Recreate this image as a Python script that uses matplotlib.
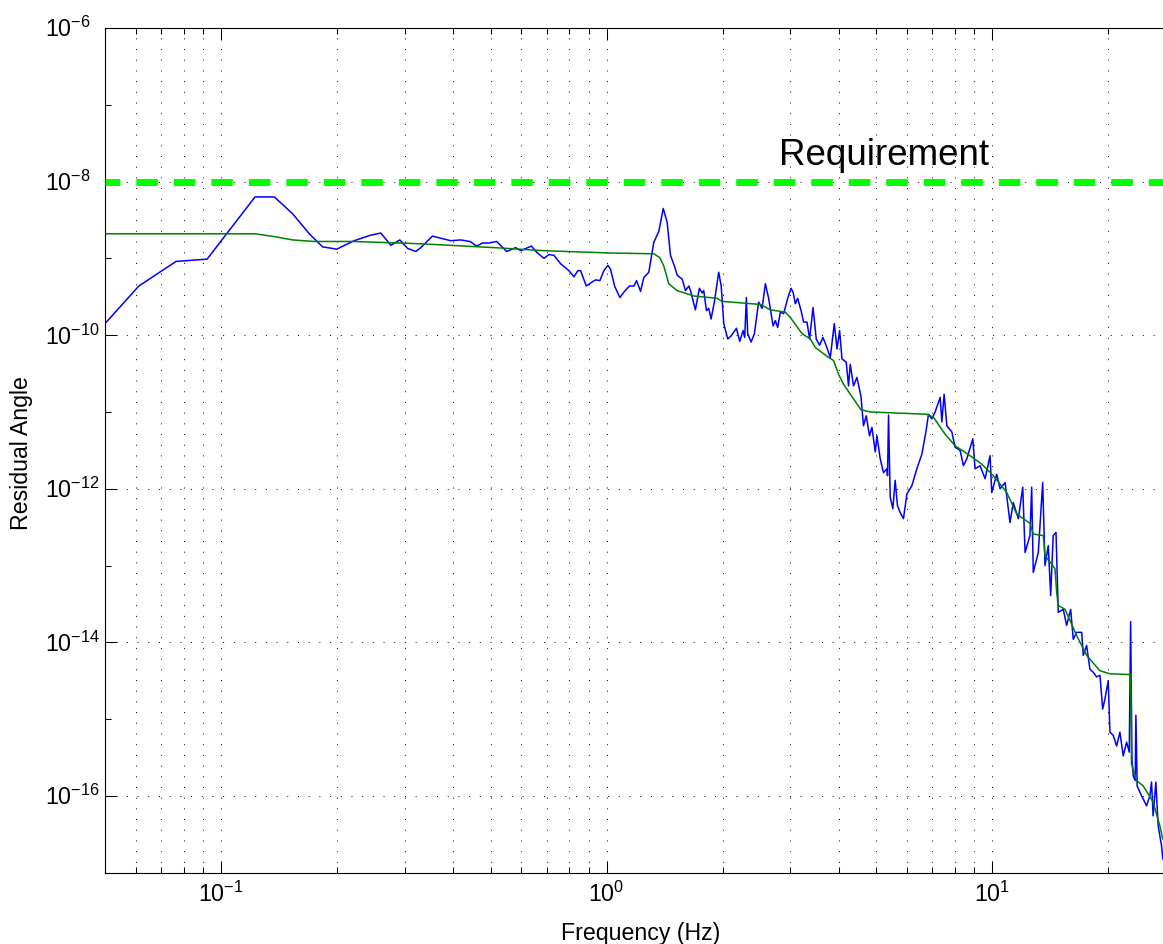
import numpy as np
import matplotlib
matplotlib.use("Agg")
import matplotlib.pyplot as plt
from matplotlib.ticker import FixedLocator, LogLocator, LogFormatterSciNotation, NullFormatter
from matplotlib.transforms import blended_transform_factory, ScaledTranslation

# ---------------- data ----------------
# measured residual angle spectrum (blue): frequency in Hz, value as log10
blue_freq = [0.0504, 0.0612, 0.0764, 0.0920, 0.1225, 0.1375, 0.1534, 0.1694, 0.1834, 0.1995,
             0.2215, 0.2436, 0.2597, 0.2757, 0.2909, 0.3046, 0.3200, 0.3298,
             0.3534, 0.3943, 0.4184, 0.4423, 0.4604, 0.4764, 0.4955, 0.5188, 0.5507, 0.5810,
             0.5987, 0.6381, 0.6587, 0.6880, 0.7088, 0.7303, 0.7600, 0.7986, 0.8229, 0.8427,
             0.8563, 0.8859, 0.9090, 0.9365, 0.9608,
             0.9840, 1.008, 1.024, 1.049, 1.083, 1.109, 1.147, 1.177, 1.196, 1.225, 1.249,
             1.287, 1.326, 1.366, 1.403, 1.436, 1.465, 1.500, 1.525, 1.571, 1.602, 1.634, 1.651,
             1.700, 1.741, 1.770, 1.787, 1.816, 1.841, 1.867, 1.905, 1.954, 1.983, 2.014, 2.062,
             2.104, 2.172, 2.215, 2.261, 2.282, 2.305, 2.323, 2.371, 2.418, 2.480, 2.532, 2.582,
             2.633, 2.704, 2.741, 2.779, 2.824, 2.880,
             2.950, 3.010, 3.046, 3.088, 3.131, 3.195, 3.245, 3.311, 3.363, 3.432, 3.499, 3.569,
             3.642, 3.715, 3.805, 3.897, 3.961, 4.023, 4.080, 4.185, 4.243, 4.286, 4.372, 4.461,
             4.568,
             4.640, 4.716, 4.809, 4.879, 4.977, 5.027, 5.127, 5.229, 5.336, 5.356, 5.388, 5.442,
             5.529, 5.606, 5.683, 5.776, 5.890, 6.012, 6.194, 6.381, 6.575, 6.745, 6.839, 6.979,
             7.118, 7.334, 7.408, 7.510, 7.632,
             7.864, 8.020, 8.263, 8.426, 8.600, 8.913, 9.036, 9.309, 9.592, 9.881, 9.982, 10.28,
             10.49, 10.81, 11.13, 11.35, 11.70, 12.01, 12.18, 12.54, 12.67, 12.79, 13.18, 13.53,
             13.72, 13.99, 14.19, 14.41, 14.65, 14.85,
             15.30, 15.61, 15.99, 16.24, 16.57, 17.08, 17.24, 17.59, 17.94, 18.30, 18.67, 19.05,
             19.36, 19.62, 20.01, 20.22, 20.62, 21.04, 21.46, 21.89, 22.34, 22.69, 22.88, 23.06,
             23.24, 23.51, 23.61, 23.79, 24.17, 24.66, 25.16, 25.66, 25.92, 26.17, 26.60, 26.97,
             27.52, 27.73]
blue_log10 = [-9.83, -9.36, -9.04, -9.01, -8.20, -8.20, -8.42, -8.68, -8.85, -8.88,
              -8.77, -8.70, -8.67, -8.83, -8.76, -8.87, -8.91, -8.86,
              -8.71, -8.77, -8.76, -8.78, -8.84, -8.80, -8.80, -8.78, -8.91, -8.86,
              -8.90, -8.84, -8.92, -9.00, -8.95, -8.96, -9.07, -9.16, -9.24, -9.16,
              -9.16, -9.36, -9.32, -9.28, -9.29,
              -9.16, -9.09, -9.14, -9.36, -9.51, -9.44, -9.36, -9.36, -9.29, -9.43, -9.25,
              -9.18, -8.79, -8.65, -8.35, -8.53, -8.96, -9.10, -9.22, -9.27, -9.42, -9.36, -9.42,
              -9.67, -9.39, -9.45, -9.42, -9.68, -9.65, -9.79, -9.56, -9.18, -9.36, -9.85, -10.05,
              -10.01, -9.91, -10.08, -9.94, -10.03, -9.51, -9.98, -10.09, -9.98, -9.57, -9.65, -9.33,
              -9.52, -9.88, -9.81, -9.90, -9.70, -9.72,
              -9.52, -9.39, -9.44, -9.59, -9.52, -9.68, -9.83, -9.83, -10.05, -9.64, -10.05, -10.13,
              -10.03, -10.14, -10.29, -9.85, -10.18, -9.94, -10.31, -10.35, -10.66, -10.38, -10.66, -10.55,
              -10.79,
              -11.18, -11.05, -11.31, -11.20, -11.52, -11.31, -11.61, -11.79, -11.74, -11.83, -11.04, -12.11,
              -12.26, -11.89, -12.22, -12.31, -12.39, -12.07, -11.96, -11.74, -11.55, -11.24, -11.03, -11.09,
              -11.00, -10.81, -11.13, -10.77, -11.18,
              -11.26, -11.46, -11.50, -11.70, -11.61, -11.35, -11.74, -11.70, -11.87, -11.57, -12.05, -11.81,
              -12.00, -11.92, -12.44, -12.18, -12.39, -11.98, -12.83, -12.61, -11.98, -13.09, -12.83, -11.92,
              -13.00, -12.74, -13.39, -12.61, -12.57, -13.61,
              -13.57, -13.78, -13.57, -13.96, -13.87, -13.87, -14.17, -14.04, -14.35, -14.39, -14.45, -14.43,
              -14.87, -14.74, -14.50, -15.17, -15.21, -15.35, -15.17, -15.48, -15.30, -15.43, -13.73, -15.52,
              -15.74, -15.80, -14.95, -15.87, -15.95, -16.04, -16.13, -16.00, -15.82, -16.26, -15.82, -16.39,
              -16.65, -16.82]

# model / cumulative curve (green): frequency in Hz, value as log10
green_freq = [0.0504, 0.1225, 0.1388, 0.1534, 0.1745, 0.2212, 0.3298, 0.5105, 0.6880, 1.024,
              1.326, 1.374, 1.408, 1.450, 1.525, 1.684, 1.935, 1.994, 2.506, 2.660,
              2.909, 2.997, 3.214, 3.378, 3.479, 3.766, 3.881, 3.998, 4.119, 4.372,
              4.568, 4.830, 6.774, 7.046, 7.555, 8.020, 8.770, 9.404, 10.08, 10.92,
              11.59, 12.54, 12.79, 13.58, 13.72, 14.56, 14.71, 14.85, 15.46, 16.57,
              17.59, 19.05, 20.22, 22.88, 22.99, 23.71, 24.66, 26.17, 27.24, 27.73]
green_log10 = [-8.68, -8.68, -8.72, -8.76, -8.78, -8.78, -8.81, -8.86, -8.90, -8.93,
               -8.94, -8.99, -9.10, -9.33, -9.42, -9.49, -9.52, -9.56, -9.60, -9.67,
               -9.70, -9.77, -9.98, -10.05, -10.16, -10.29, -10.33, -10.51, -10.64, -10.83,
               -10.97, -11.00, -11.03, -11.07, -11.29, -11.44, -11.57, -11.68, -11.83, -12.05,
               -12.33, -12.45, -12.59, -12.61, -12.87, -13.04, -13.35, -13.52, -13.57, -13.91,
               -14.17, -14.37, -14.41, -14.42, -15.58, -15.80, -15.87, -16.08, -16.39, -16.56]

# requirement level
req_freq = [0.05, 30.0]
req_level = [1e-8, 1e-8]
req_label = "Requirement"

x_limits = [0.05, 30.0]
y_limits = [1e-17, 1e-6]
y_major_ticks = [1e-16, 1e-14, 1e-12, 1e-10, 1e-8, 1e-6]
y_minor_ticks = [1e-17, 1e-15, 1e-13, 1e-11, 1e-9, 1e-7]
x_label = "Frequency (Hz)"
y_label = "Residual Angle"

# ---------------- style ----------------
plt.rcParams["font.family"] = ["Liberation Sans", "DejaVu Sans"]
plt.rcParams["mathtext.fontset"] = "custom"
plt.rcParams["mathtext.rm"] = "Liberation Sans"
plt.rcParams["mathtext.it"] = "Liberation Sans:italic"
plt.rcParams["mathtext.bf"] = "Liberation Sans:bold"
plt.rcParams["mathtext.default"] = "regular"

FS = 16.7
W, H = 1163, 945
fig = plt.figure(figsize=(W / 100, H / 100), dpi=100)
ax = fig.add_axes([105 / W, 71.3 / H, 1071 / W, 844.7 / H])

ax.set_xscale("log")
ax.set_yscale("log")

ax.plot(blue_freq, 10.0 ** np.array(blue_log10), color="#0000ff", lw=1.1, zorder=3)
ax.plot(green_freq, 10.0 ** np.array(green_log10), color="#008000", lw=1.1, zorder=4)
ax.plot(req_freq, req_level, color="#00ff00", lw=5.0, ls=(0.96, (3.1, 2.3)),
        solid_capstyle="butt", dash_capstyle="butt", zorder=5)

ax.set_xlim(*x_limits)
ax.set_ylim(*y_limits)

ax.yaxis.set_major_locator(FixedLocator(y_major_ticks))
ax.yaxis.set_minor_locator(FixedLocator(y_minor_ticks))
ax.yaxis.set_major_formatter(NullFormatter())
ax.yaxis.set_minor_formatter(NullFormatter())
ax.xaxis.set_major_locator(LogLocator(base=10, numticks=20))
ax.xaxis.set_minor_locator(LogLocator(base=10, subs=np.arange(2, 10), numticks=20))
ax.xaxis.set_major_formatter(LogFormatterSciNotation())
ax.xaxis.set_minor_formatter(NullFormatter())

ax.tick_params(which="both", direction="in", top=True, right=True, width=0.75, colors="k")
ax.tick_params(which="major", length=8.5, labelsize=FS)
ax.tick_params(axis="x", which="major", pad=6)
ax.tick_params(which="minor", length=4.5)

# y tick labels: "10" base left-aligned at a fixed column, exponent hanging right,
# digits vertically centred on the tick (as in the reference)
ytrans = blended_transform_factory(ax.transAxes, ax.transData) + \
    ScaledTranslation(-0.60, -0.083, fig.dpi_scale_trans)
for v in y_major_ticks:
    ax.text(0, v, r"$10^{%d}$" % int(round(np.log10(v))), transform=ytrans,
            fontsize=FS, ha="left", va="baseline", clip_on=False)

grid_style = dict(color="k", lw=0.7, ls=(0, (1, 10)))
ax.set_axisbelow(True)
ax.grid(True, which="major", axis="both", **grid_style)
ax.grid(True, which="minor", axis="x", **grid_style)

for sp in ax.spines.values():
    sp.set_linewidth(0.8)
    sp.set_color("k")

fig.text(779 / W, 1 - 165 / H, req_label, fontsize=26.5, ha="left", va="baseline")
fig.text(640.5 / W, 1 - 940 / H, x_label, fontsize=FS, ha="center", va="baseline")
fig.text(22 / W, 1 - 453 / H, y_label, fontsize=FS, ha="center", va="center", rotation=90)

fig.savefig("out.png", dpi=100)
